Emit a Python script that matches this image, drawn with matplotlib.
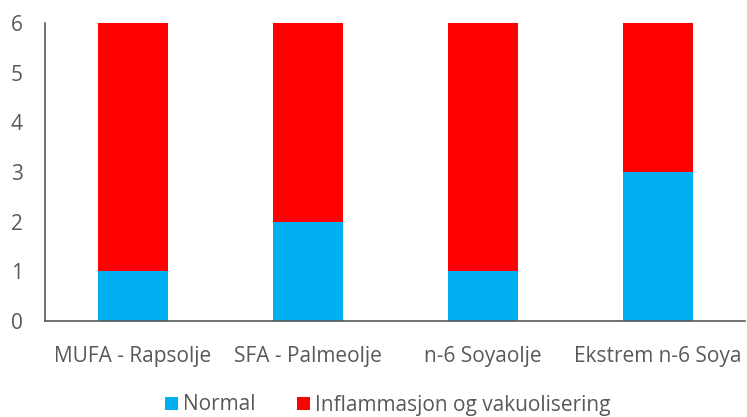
import matplotlib
matplotlib.use("Agg")
import matplotlib.pyplot as plt
import numpy as np

categories = ["MUFA - Rapsolje", "SFA - Palmeolje", "n-6 Soyaolje", "Ekstrem n-6 Soya"]
normal = [1, 2, 1, 3]
inflammasjon = [5, 4, 5, 3]
series_names = ["Normal", "Inflammasjon og vakuolisering"]
yticks = [0, 1, 2, 3, 4, 5, 6]

plt.rcParams['font.family'] = ['Open Sans', 'DejaVu Sans']
grey = '#595959'

fig = plt.figure(figsize=(7.47, 4.17), dpi=100)
ax = fig.add_axes([45/747, 1-321/417, 700/747, (321-23)/417])
x = np.arange(len(categories))
ax.bar(x, normal, width=0.4, color='#00B0F0', label=series_names[0])
ax.bar(x, inflammasjon, width=0.4, bottom=normal, color='#FF0000', label=series_names[1])
ax.set_xlim(-0.5, 3.5)
ax.set_ylim(0, 6)
ax.set_yticks(yticks)
ax.set_xticks(x)
ax.set_xticklabels(categories)
ax.tick_params(axis='both', length=0, colors=grey, labelsize=15)
ax.tick_params(axis='x', pad=18)
ax.tick_params(axis='y', pad=16)
for s in ['top', 'right']:
    ax.spines[s].set_visible(False)
for s in ['left', 'bottom']:
    ax.spines[s].set_color('#595959')
    ax.spines[s].set_linewidth(1.2)
leg = fig.legend(loc='center', bbox_to_anchor=(388/747, 1-405/417), ncol=2, frameon=False,
                 fontsize=15, handlelength=0.6, handleheight=0.6, handletextpad=0.25,
                 columnspacing=2.0, labelcolor=grey, borderpad=0)
fig.savefig("out.png", dpi=100)
